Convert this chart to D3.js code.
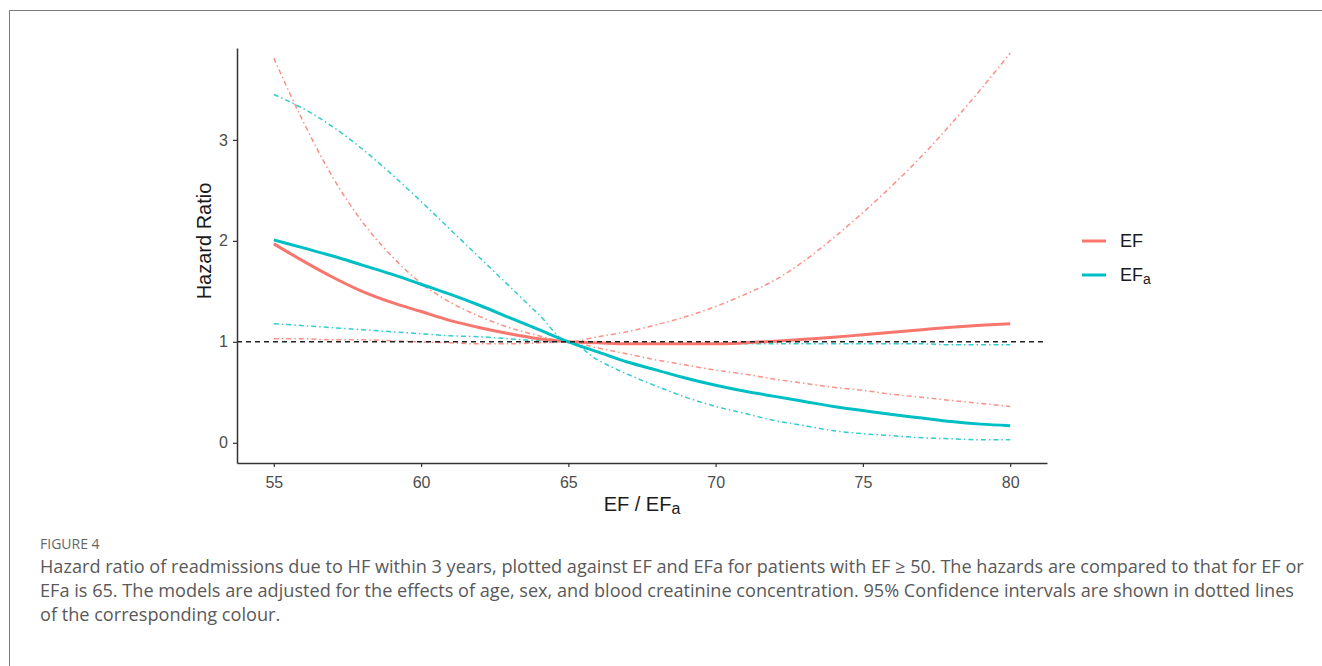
<!DOCTYPE html>
<html>
<head>
<meta charset="utf-8">
<script src="https://cdn.jsdelivr.net/npm/d3@7/dist/d3.min.js"></script>
<style>
  body { margin: 0; background: #fff; }
  svg { display: block; }
</style>
</head>
<body>
<div id="chart"></div>
<script>
// --- Data
const efAxis = [55, 56, 57, 58, 59, 60, 61, 62, 63, 64, 65, 66, 67, 68, 69, 70, 71, 72, 73, 74, 75, 76, 77, 78, 79, 80];

// EF (red)
const efHR = [1.97, 1.80, 1.64, 1.50, 1.39, 1.30, 1.21, 1.14, 1.08, 1.03, 1.00, 0.99, 0.98, 0.98, 0.98, 0.98, 0.99, 1.005, 1.025, 1.045, 1.07, 1.095, 1.12, 1.145, 1.165, 1.18];
const efLower = [1.03, 1.03, 1.02, 1.02, 1.01, 1.00, 0.99, 0.98, 0.98, 0.99, 1.00, 0.94, 0.88, 0.82, 0.77, 0.72, 0.68, 0.63, 0.59, 0.55, 0.52, 0.48, 0.45, 0.42, 0.39, 0.36];
const efUpper = [3.81, 3.18, 2.63, 2.19, 1.85, 1.58, 1.39, 1.25, 1.14, 1.06, 1.00, 1.05, 1.10, 1.17, 1.25, 1.35, 1.47, 1.61, 1.80, 2.03, 2.28, 2.55, 2.84, 3.16, 3.50, 3.86];

// EFa (cyan)
const efaHR = [2.01, 1.93, 1.85, 1.76, 1.67, 1.57, 1.47, 1.36, 1.24, 1.12, 1.00, 0.90, 0.80, 0.72, 0.64, 0.57, 0.51, 0.46, 0.41, 0.36, 0.32, 0.28, 0.245, 0.21, 0.185, 0.17];
const efaLower = [1.18, 1.16, 1.14, 1.12, 1.10, 1.08, 1.06, 1.05, 1.03, 1.01, 1.00, 0.82, 0.68, 0.56, 0.45, 0.36, 0.29, 0.22, 0.17, 0.12, 0.09, 0.07, 0.05, 0.04, 0.03, 0.03];
const efaUpper = [3.45, 3.31, 3.13, 2.91, 2.66, 2.39, 2.11, 1.83, 1.55, 1.27, 1.00, 0.99, 0.98, 0.98, 0.98, 0.98, 0.98, 0.98, 0.98, 0.98, 0.98, 0.98, 0.98, 0.97, 0.97, 0.97];

const xTicks = [55, 60, 65, 70, 75, 80];
const yTicks = [0, 1, 2, 3];
const refHR = 1;

const seriesNames = ['EF', 'EFa'];
const seriesColors = ['#F8766D', '#00BFC4'];

const captionTitle = 'FIGURE 4';
const captionLines = [
  'Hazard ratio of readmissions due to HF within 3 years, plotted against EF and EFa for patients with EF \u2265 50. The hazards are compared to that for EF or',
  'EFa is 65. The models are adjusted for the effects of age, sex, and blood creatinine concentration. 95% Confidence intervals are shown in dotted lines',
  'of the corresponding colour.'
];

// --- Layout
const width = 1322;
const height = 666;
const panel = { left: 237, right: 1047, top: 48, bottom: 463 };
const axisFont = '"Liberation Sans", Arial, sans-serif';
const captionFont = '"Open Sans", "Noto Sans", sans-serif';
const captionLeft = 40;
const captionRight = 1305;

const svg = d3.select('#chart')
  .append('svg')
  .attr('width', width)
  .attr('height', height)
  .attr('viewBox', [0, 0, width, height]);

// figure frame (left + top edges only)
svg.append('path')
  .attr('d', `M9.5,${height} V10.5 H${width}`)
  .attr('fill', 'none')
  .attr('stroke', '#7a7a7a')
  .attr('stroke-width', 1);

// scales
const x = d3.scaleLinear()
  .domain([53.75, 81.25])
  .range([panel.left, panel.right]);

const y = d3.scaleLinear()
  .domain([-0.2, 3.91])
  .range([panel.bottom, panel.top]);

const line = d3.line()
  .x(d => x(d[0]))
  .y(d => y(d[1]))
  .curve(d3.curveMonotoneX);

const zip = vals => efAxis.map((v, i) => [v, vals[i]]);

// confidence intervals (dot-dash)
const ciSets = [
  { vals: efLower, color: seriesColors[0] },
  { vals: efUpper, color: seriesColors[0] },
  { vals: efaLower, color: seriesColors[1] },
  { vals: efaUpper, color: seriesColors[1] }
];

svg.append('g')
  .attr('class', 'ci')
  .selectAll('path')
  .data(ciSets)
  .join('path')
  .attr('d', d => line(zip(d.vals)))
  .attr('fill', 'none')
  .attr('stroke', d => d.color)
  .attr('stroke-opacity', 0.8)
  .attr('stroke-width', 1.5)
  .attr('stroke-dasharray', '5,3,1.5,3');

// fitted hazard ratios
svg.append('g')
  .attr('class', 'hr')
  .selectAll('path')
  .data([efHR, efaHR])
  .join('path')
  .attr('d', d => line(zip(d)))
  .attr('fill', 'none')
  .attr('stroke', (d, i) => seriesColors[i])
  .attr('stroke-width', 3);

// reference line at HR = 1
svg.append('line')
  .attr('x1', panel.left)
  .attr('x2', panel.right)
  .attr('y1', y(refHR))
  .attr('y2', y(refHR))
  .attr('stroke', '#222')
  .attr('stroke-width', 1.5)
  .attr('stroke-dasharray', '5,4');

// axes
svg.append('g')
  .attr('transform', `translate(0, ${panel.bottom})`)
  .call(d3.axisBottom(x)
    .tickValues(xTicks)
    .tickFormat(d3.format('d'))
    .tickSize(4)
    .tickSizeOuter(0)
    .tickPadding(10)
  )
  .call(g => g.select('.domain').attr('stroke', '#333').attr('stroke-width', 1.5));

svg.append('g')
  .attr('transform', `translate(${panel.left}, 0)`)
  .call(d3.axisLeft(y)
    .tickValues(yTicks)
    .tickFormat(d3.format('d'))
    .tickSize(4)
    .tickSizeOuter(0)
    .tickPadding(5)
  )
  .call(g => g.select('.domain').attr('stroke', '#333').attr('stroke-width', 1.5));

svg.selectAll('.tick line').attr('stroke', '#333').attr('stroke-width', 1.2);
svg.selectAll('.tick text')
  .attr('fill', '#4d4d4d')
  .style('font-family', axisFont)
  .style('font-size', '16px');

// axis titles
const xTitle = svg.append('text')
  .attr('x', (panel.left + panel.right) / 2)
  .attr('y', 511)
  .attr('text-anchor', 'middle')
  .attr('fill', '#1a1a1a')
  .style('font-family', axisFont)
  .style('font-size', '20px');
xTitle.append('tspan').text('EF / EF');
xTitle.append('tspan').attr('dy', 3).style('font-size', '16px').text('a');

svg.append('text')
  .attr('transform', 'translate(211, 241) rotate(-90)')
  .attr('text-anchor', 'middle')
  .attr('fill', '#1a1a1a')
  .style('font-family', axisFont)
  .style('font-size', '20px')
  .text('Hazard Ratio');

// legend
const legend = svg.append('g')
  .attr('class', 'legend')
  .selectAll('g')
  .data(seriesNames)
  .join('g')
  .attr('transform', (d, i) => `translate(1082, ${241 + i * 34})`);

legend.append('line')
  .attr('x1', 0)
  .attr('x2', 24)
  .attr('stroke', (d, i) => seriesColors[i])
  .attr('stroke-width', 3);

const legendText = legend.append('text')
  .attr('x', 38)
  .attr('dy', '0.35em')
  .attr('fill', '#1a1a1a')
  .style('font-family', axisFont)
  .style('font-size', '18px');
legendText.append('tspan').text('EF');
legendText.filter(d => d === 'EFa')
  .append('tspan')
  .attr('dy', 3)
  .style('font-size', '14px')
  .text('a');

// caption
svg.append('text')
  .attr('x', captionLeft)
  .attr('y', 549)
  .attr('fill', '#666')
  .style('font-family', captionFont)
  .style('font-size', '14px')
  .text(captionTitle);

const caption = svg.append('g')
  .selectAll('text')
  .data(captionLines)
  .join('text')
  .attr('x', captionLeft)
  .attr('y', (d, i) => 573 + i * 24)
  .attr('fill', '#595959')
  .style('font-family', captionFont)
  .style('font-size', '16px')
  .text(d => d);

// scale the caption font so the first line spans the figure width
const firstWidth = caption.node().getComputedTextLength();
const captionSize = 16 * (captionRight - captionLeft) / firstWidth;
caption.style('font-size', `${captionSize.toFixed(2)}px`);
</script>
</body>
</html>
